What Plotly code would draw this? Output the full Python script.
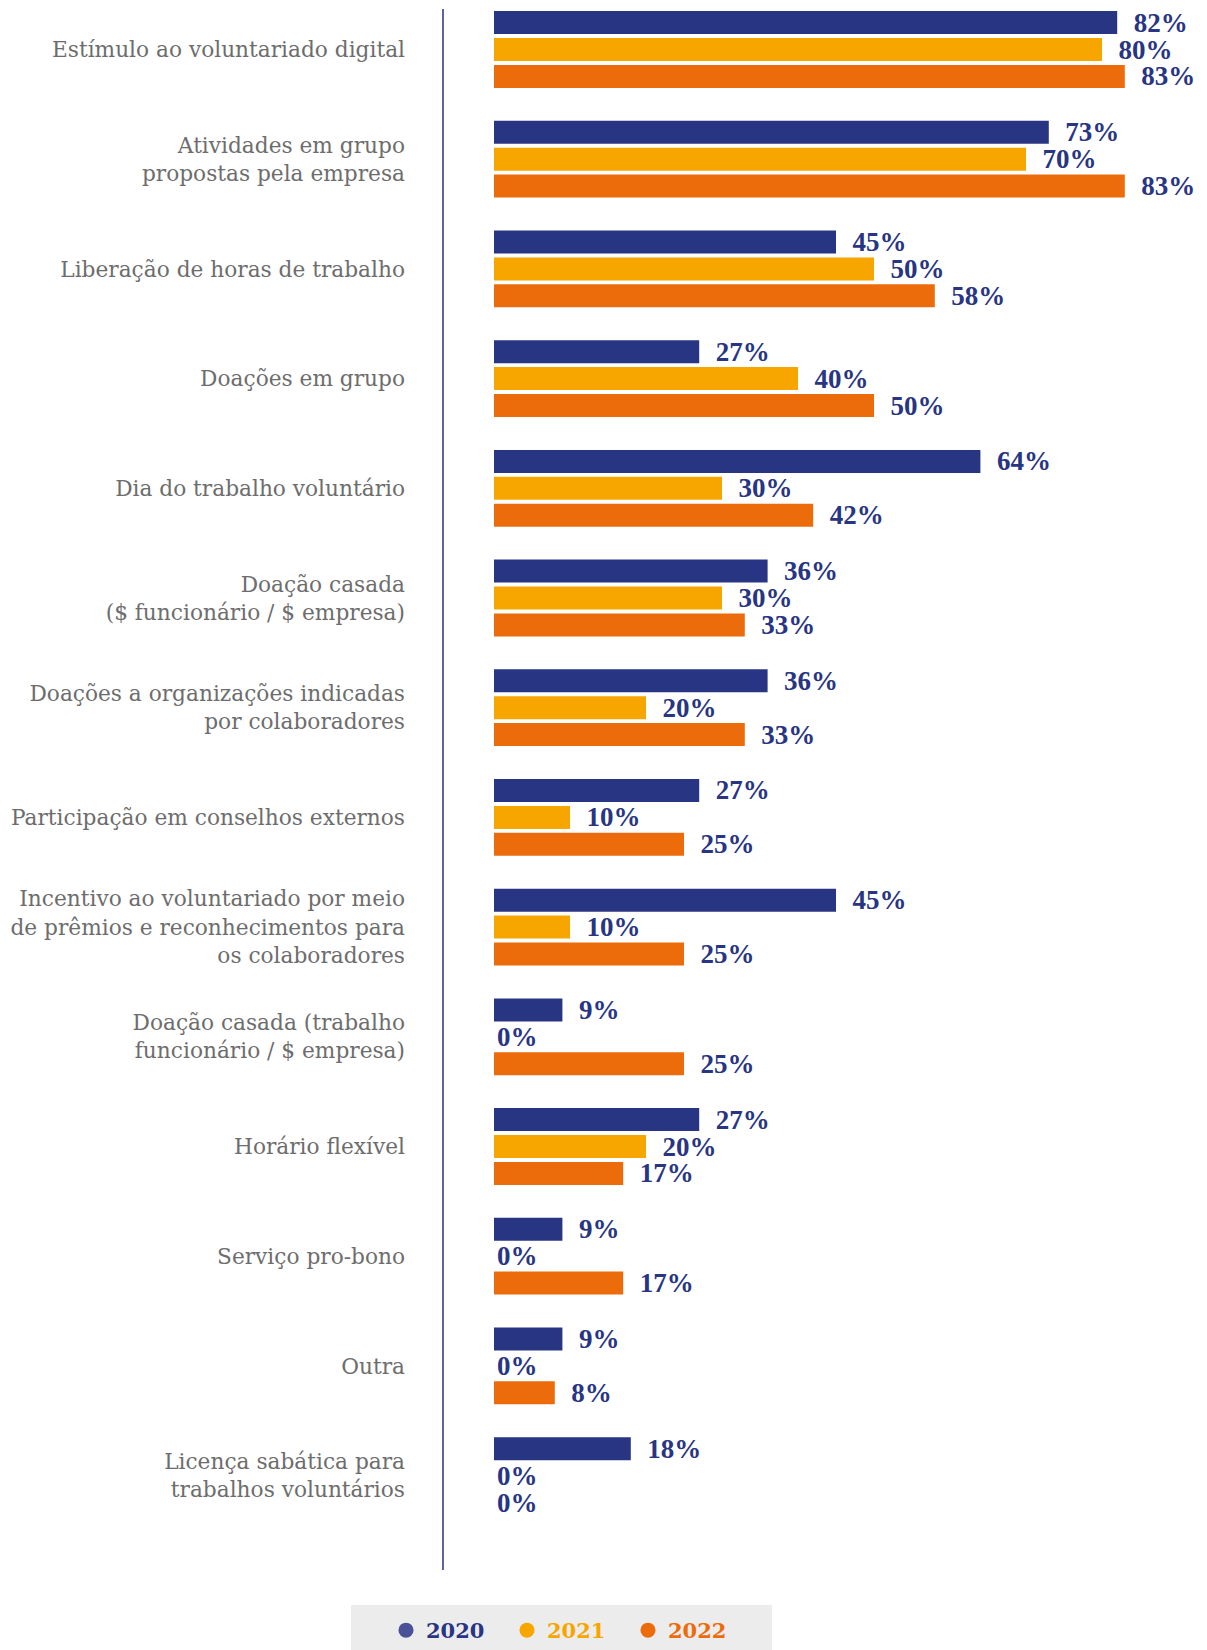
import plotly.graph_objects as go

categories = [
    "Estímulo ao voluntariado digital",
    "Atividades em grupo<br>propostas pela empresa",
    "Liberação de horas de trabalho",
    "Doações em grupo",
    "Dia do trabalho voluntário",
    "Doação casada<br>($ funcionário / $ empresa)",
    "Doações a organizações indicadas<br>por colaboradores",
    "Participação em conselhos externos",
    "Incentivo ao voluntariado por meio<br>de prêmios e reconhecimentos para<br>os colaboradores",
    "Doação casada (trabalho<br>funcionário / $ empresa)",
    "Horário flexível",
    "Serviço pro-bono",
    "Outra",
    "Licença sabática para<br>trabalhos voluntários",
]
series_names = ["2020", "2021", "2022"]
values_2020 = [82, 73, 45, 27, 64, 36, 36, 27, 45, 9, 27, 9, 9, 18]
values_2021 = [80, 70, 50, 40, 30, 30, 20, 10, 10, 0, 20, 0, 0, 0]
values_2022 = [83, 83, 58, 50, 42, 33, 33, 25, 25, 25, 17, 17, 8, 0]
colors = ["#283583", "#f7a600", "#ec6c0c"]

OFF = 8  # default page body margin
W, H = 1207 - OFF, 1650 - OFF
L, R, T, B = 486, 0, 0, 0
px_per_pct = 7.6
plot_w = W - L - R
plot_h = H - T - B
spacing = 109.7
first_center = 49.5 - OFF

fig = go.Figure()
for name, vals, col in zip(series_names, [values_2020, values_2021, values_2022], colors):
    txt = [("\u00a0\u00a0" if v > 0 else "") + f"{v}%" for v in vals]
    fig.add_trace(go.Bar(
        y=categories, x=vals, orientation="h", name=name,
        marker=dict(color=col, line=dict(width=0)),
        text=txt, textposition="outside", constraintext="none", cliponaxis=False,
        textfont=dict(family="Liberation Serif", size=27, color="#283583", weight="bold"),
        showlegend=False, hoverinfo="skip",
    ))
# legend dummies (circle markers)
for name, col in zip(series_names, colors):
    fig.add_trace(go.Scatter(
        x=[None], y=[None], mode="markers", name=f"<span style='color:{col}'>{name}</span>",
        marker=dict(symbol="circle", size=15, color=col if name != "2020" else "#4b5198"),
        showlegend=True,
    ))

top_idx = -first_center / spacing
bot_idx = (plot_h - first_center) / spacing

def px_x(p):
    return (p - OFF - L) / plot_w

def px_y(p):
    return 1 - (p - OFF - T) / plot_h

fig.update_layout(
    width=W, height=H,
    margin=dict(l=L, r=R, t=T, b=B, pad=0, autoexpand=False),
    paper_bgcolor="white", plot_bgcolor="white",
    barmode="group", bargap=0.264, bargroupgap=0.145,
    xaxis=dict(range=[0, plot_w / px_per_pct], visible=False, fixedrange=True,
               automargin=False),
    yaxis=dict(
        type="category", range=[bot_idx, top_idx], automargin=False,
        showgrid=False, zeroline=False, showline=False, ticks="",
        tickfont=dict(family="DejaVu Serif", size=21.7, color="#6d6d6d"),
        ticklabelstandoff=88,
    ),
    showlegend=True,
    legend=dict(
        orientation="h", x=px_x(386), xanchor="left",
        y=px_y(1610), yanchor="top",
        bgcolor="rgba(0,0,0,0)",
        font=dict(family="DejaVu Serif", size=21, weight="bold"),
        entrywidth=76, entrywidthmode="pixels",
        itemclick=False, itemdoubleclick=False,
    ),
    shapes=[
        dict(type="line", xref="paper", yref="paper",
             x0=px_x(443), x1=px_x(443),
             y0=px_y(1570), y1=px_y(9),
             line=dict(color="#5d649f", width=2)),
        dict(type="rect", xref="paper", yref="paper",
             x0=px_x(351), x1=px_x(772),
             y0=px_y(1700), y1=px_y(1605),
             fillcolor="#ececec", line=dict(width=0), layer="below"),
    ],
)

fig.write_html("out.html")
